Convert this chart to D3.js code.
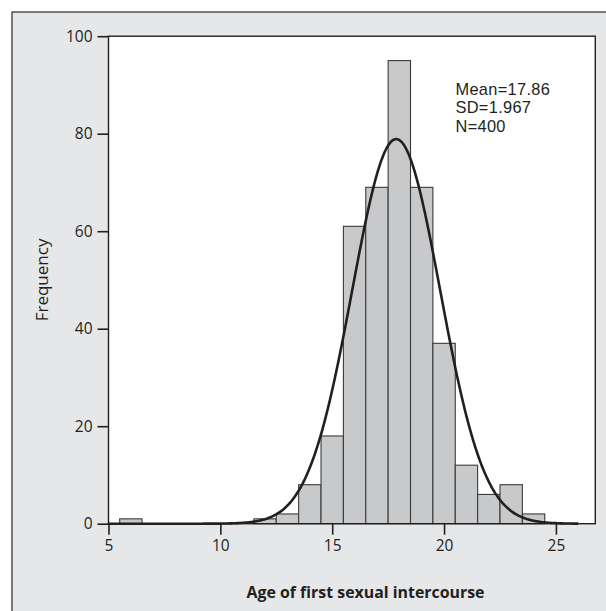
<!DOCTYPE html>
<html><head><meta charset="utf-8">
<script src="https://cdn.jsdelivr.net/npm/d3@7"></script>
<style>html,body{margin:0;padding:0;background:#fff;}svg{display:block;}</style>
</head><body>
<script>
// Data
const binCenters = [6, 12, 13, 14, 15, 16, 17, 18, 19, 20, 21, 22, 23, 24];
const frequencies = [1, 1, 2, 8, 18, 61, 69, 95, 69, 37, 12, 6, 8, 2];
const xTicks = [5, 10, 15, 20, 25];
const yTicks = [0, 20, 40, 60, 80, 100];
const statsLines = ["Mean=17.86", "SD=1.967", "N=400"];
const stats = {mean: 17.86, sd: 1.967};
const xTitle = "Age of first sexual intercourse";
const yTitle = "Frequency";

const W = 606, H = 611;
const svg = d3.select("body").append("svg").attr("width", W).attr("height", H);
const font = "'Open Sans', 'Noto Sans', sans-serif";

// panel background
svg.append("rect").attr("x", 12).attr("y", 12).attr("width", W).attr("height", H)
  .attr("fill", "#e6e7e8").attr("stroke", "#3a3a3a").attr("stroke-width", 1.3);

const x = d3.scaleLinear().domain([5, 26.76]).range([108.5, 595.3]);
const y = d3.scaleLinear().domain([0, 100]).range([523.7, 36.2]);

// plot area
svg.append("rect").attr("x", x.range()[0]).attr("y", y(100))
  .attr("width", x.range()[1] - x.range()[0]).attr("height", y(0) - y(100))
  .attr("fill", "#fff");

// bars
svg.append("g").selectAll("rect").data(binCenters).join("rect")
  .attr("x", (d) => x(d - 0.5))
  .attr("width", (d) => x(d + 0.5) - x(d - 0.5))
  .attr("y", (d, i) => y(frequencies[i]))
  .attr("height", (d, i) => y(0) - y(frequencies[i]))
  .attr("fill", "#c8c9cb").attr("stroke", "#3a3a3a").attr("stroke-width", 1.1);

// normal curve
const nTotal = d3.sum(frequencies);
const pts = d3.range(5, 26.001, 0.05).map(v => [v,
  nTotal * Math.exp(-0.5 * Math.pow((v - stats.mean) / stats.sd, 2)) / (stats.sd * Math.sqrt(2 * Math.PI))]);
svg.append("path").datum(pts)
  .attr("d", d3.line().x(d => x(d[0])).y(d => y(d[1])).curve(d3.curveBasis))
  .attr("fill", "none").attr("stroke", "#231f20").attr("stroke-width", 2.6);

// plot frame
svg.append("rect").attr("x", x.range()[0]).attr("y", y(100))
  .attr("width", x.range()[1] - x.range()[0]).attr("height", y(0) - y(100))
  .attr("fill", "none").attr("stroke", "#231f20").attr("stroke-width", 1.4);

// axes
const xAxis = svg.append("g").attr("transform", `translate(0,${y(0)})`)
  .call(d3.axisBottom(x).tickValues(xTicks).tickSize(11).tickPadding(5).tickFormat(d3.format("d")));
const yAxis = svg.append("g").attr("transform", `translate(${x.range()[0]},0)`)
  .call(d3.axisLeft(y).tickValues(yTicks).tickSize(11).tickPadding(5).tickFormat(d3.format("d")));
[xAxis, yAxis].forEach(g => {
  g.select(".domain").remove();
  g.selectAll("line").attr("stroke", "#231f20").attr("stroke-width", 1.6);
  g.selectAll("text").attr("font-family", font).attr("font-size", 15.5).attr("fill", "#231f20");
});

// stats
svg.append("text").attr("font-family", "'Liberation Sans', Arial, sans-serif")
  .attr("font-size", 16.4).attr("letter-spacing", 0.3).attr("fill", "#231f20")
  .selectAll("tspan").data(statsLines).join("tspan")
  .attr("x", 455.5).attr("y", (d, i) => 95 + i * 18.4).text(d => d);

// titles
svg.append("text").attr("x", 365.5).attr("y", 598).attr("text-anchor", "middle")
  .attr("font-family", font).attr("font-weight", "bold").attr("font-size", 15.9).attr("fill", "#231f20")
  .text(xTitle);
svg.append("text").attr("transform", `translate(48,${(y(0) + y(100)) / 2}) rotate(-90)`)
  .attr("text-anchor", "middle").attr("font-family", font).attr("font-size", 17).attr("fill", "#231f20")
  .text(yTitle);
</script>
</body></html>
